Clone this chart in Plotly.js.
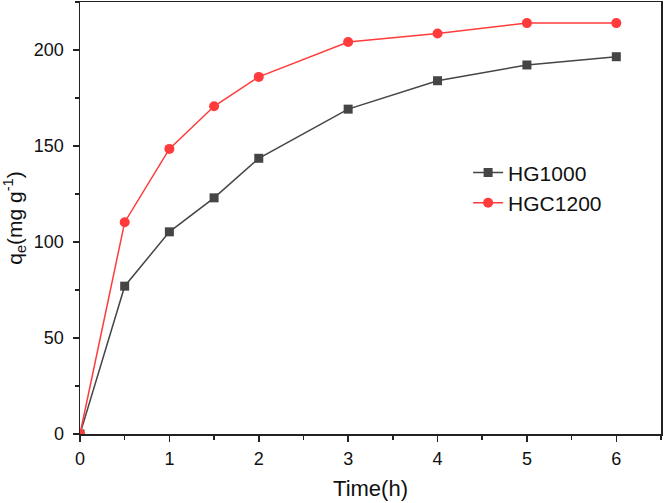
<!DOCTYPE html>
<html>
<head>
<meta charset="utf-8">
<script src="https://cdn.plot.ly/plotly-3.0.1.min.js"></script>
<style>html,body{margin:0;padding:0;background:#fff;}#chart{width:664px;height:503px;}</style>
</head>
<body>
<div id="chart"></div>
<script>
var time = [0, 0.5, 1, 1.5, 2, 3, 4, 5, 6];
var hg1000 = [0, 77, 105.3, 123, 143.6, 169.2, 184, 192.2, 196.5];
var hgc1200 = [0, 110.3, 148.5, 170.7, 186, 204.2, 208.6, 214, 214];
var xTicks = [0, 1, 2, 3, 4, 5, 6];
var yTicks = [0, 50, 100, 150, 200];

var fontFam = 'Liberation Sans, Arial, sans-serif';

var traces = [
  {x: time, y: hg1000, name: 'HG1000', type: 'scatter', mode: 'lines+markers',
   line: {color: '#454545', width: 1.5},
   marker: {symbol: 'square', size: 9, color: '#454545'}},
  {x: time, y: hgc1200, name: 'HGC1200', type: 'scatter', mode: 'lines+markers',
   line: {color: '#ff3b3b', width: 1.5},
   marker: {symbol: 'circle', size: 10, color: '#ff3b3b'}}
];

var axisCommon = {
  showgrid: false, zeroline: false, showline: true, linecolor: '#222', linewidth: 1.5,
  mirror: true, ticks: 'outside', ticklen: 6, tickwidth: 1.5, tickcolor: '#222',
  tickfont: {family: fontFam, size: 18, color: '#111'}
};

var layout = {
  width: 664, height: 503,
  margin: {l: 80, r: 3, t: 2, b: 69},
  paper_bgcolor: '#fff', plot_bgcolor: '#fff',
  showlegend: true,
  legend: {x: 0.668, y: 0.652, xanchor: 'left', yanchor: 'top', bgcolor: 'rgba(0,0,0,0)',
           font: {family: fontFam, size: 21, color: '#111'}, tracegroupgap: 0},
  xaxis: Object.assign({}, axisCommon, {
    range: [0, 6.5], tickvals: xTicks, ticktext: xTicks.map(String),
    ticklabelstandoff: 2,
    minor: {dtick: 0.5, ticks: 'outside', ticklen: 4, tickwidth: 1.5, tickcolor: '#222'},
    title: {text: 'Time(h)', font: {family: fontFam, size: 22, color: '#111'}, standoff: 12}
  }),
  yaxis: Object.assign({}, axisCommon, {
    range: [0, 225], tickvals: yTicks, ticktext: yTicks.map(String),
    ticklabelstandoff: 5,
    minor: {dtick: 25, ticks: 'outside', ticklen: 4, tickwidth: 1.5, tickcolor: '#222'},
    title: {text: 'q<sub>e</sub>(mg g<sup>-1</sup>)', font: {family: fontFam, size: 21, color: '#111'}, standoff: 6}
  })
};

Plotly.newPlot('chart', traces, layout, {displayModeBar: false, staticPlot: true});
</script>
</body>
</html>
